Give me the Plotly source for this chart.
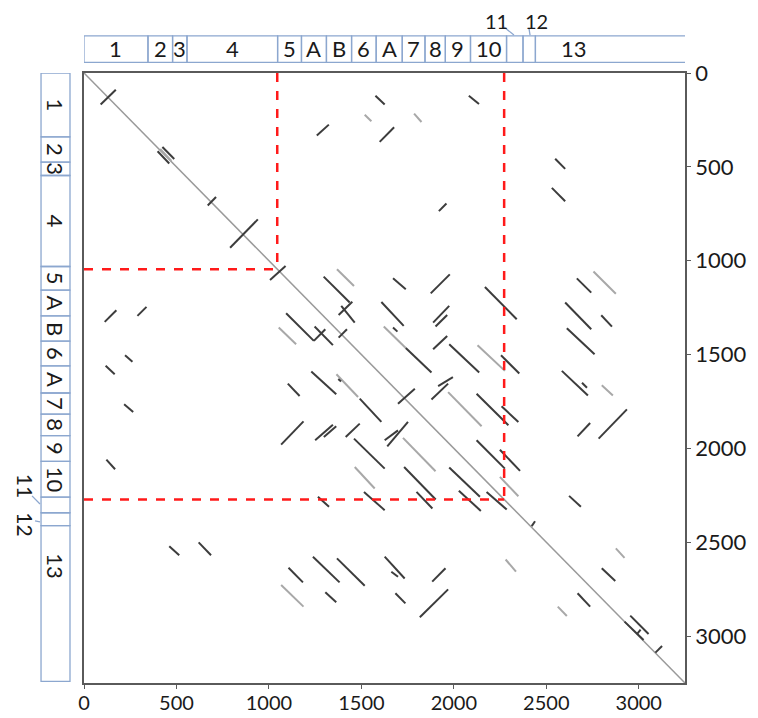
import plotly.graph_objects as go

genome_length = 3250

# region bars (genome coordinates of boundaries)
region_labels = ["1", "2", "3", "4", "5", "A", "B", "6", "A", "7", "8", "9", "10", "", "", "13"]
top_bounds = [0, 346, 479, 557, 1047, 1176, 1311, 1447, 1580, 1721, 1844, 1954, 2090, 2285, 2374, 2441, 3272]
left_bounds = [0, 340, 475, 546, 1031, 1157, 1294, 1429, 1560, 1705, 1817, 1932, 2069, 2260, 2343, 2411, 3241]
top_label13_pos = 2650
left_label13_pos = 2625

# dashed region boundaries
red_box_ends = [1045, 2272]

# similarity segments (x0, y0, x1, y1)
dark_segments = [
    (90, 168, 172, 89), (398, 417, 461, 482), (424, 394, 488, 458), (669, 706, 714, 661),
    (790, 931, 940, 780), (1006, 1103, 1090, 1028), (1259, 333, 1324, 275), (1576, 121, 1626, 168),
    (1599, 367, 1677, 289), (1296, 1085, 1437, 1223), (1377, 1289, 1451, 1219), (1391, 1241, 1464, 1330),
    (1608, 1220, 1729, 1347), (112, 1326, 175, 1264), (289, 1294, 338, 1246), (222, 1504, 262, 1539),
    (117, 1560, 166, 1605), (1093, 1280, 1243, 1427), (1243, 1427, 1305, 1365), (1247, 1351, 1346, 1450),
    (1377, 1410, 1422, 1365),
    (2081, 121, 2136, 165), (2548, 457, 2602, 511), (2530, 612, 2602, 683), (1919, 736, 1960, 695),
    (1671, 1094, 1740, 1152), (1875, 1174, 1978, 1073), (2168, 1140, 2340, 1312), (2665, 1094, 2743, 1170),
    (2602, 1223, 2743, 1365), (2797, 1291, 2855, 1351), (2611, 1360, 2761, 1498), (1888, 1330, 1975, 1241),
    (1901, 1351, 1964, 1289), (1671, 1356, 1695, 1378), (1740, 1465, 1879, 1596), (1888, 1472, 1964, 1401),
    (1975, 1445, 2137, 1596), (2255, 1504, 2354, 1601),
    (217, 1765, 266, 1806), (121, 2060, 168, 2111), (1102, 1655, 1166, 1721), (1229, 1590, 1364, 1712),
    (1375, 1630, 1390, 1643), (1491, 1735, 1608, 1859), (1066, 1980, 1187, 1856), (1250, 1957, 1346, 1874),
    (1297, 1939, 1364, 1882), (1415, 1939, 1491, 1868), (1460, 1948, 1626, 2108), (1514, 2232, 1626, 2329),
    (1265, 2258, 1325, 2311), (461, 2521, 515, 2569), (620, 2501, 687, 2569), (1106, 2636, 1184, 2714),
    (1238, 2577, 1382, 2714), (1368, 2586, 1518, 2732), (1305, 2767, 1364, 2820),
    (1698, 1762, 1789, 1682), (1879, 1739, 1969, 1655), (1915, 1668, 1995, 1620), (2123, 1709, 2295, 1877),
    (2258, 1776, 2349, 1859), (2584, 1587, 2725, 1718), (2693, 1650, 2720, 1677), (2669, 1936, 2737, 1865),
    (2783, 1948, 2936, 1792), (1640, 1989, 1752, 1859), (1626, 1957, 1698, 1904), (1731, 2099, 1902, 2272),
    (1798, 2232, 1884, 2320), (1975, 2102, 2141, 2258), (2027, 2226, 2146, 2333), (2123, 1957, 2276, 2108),
    (2249, 2007, 2358, 2120), (2177, 2232, 2286, 2326), (2421, 2414, 2439, 2388), (2623, 2253, 2687, 2311),
    (2800, 2639, 2873, 2707), (1626, 2577, 1734, 2693), (1662, 2657, 1698, 2684), (1883, 2710, 1955, 2639),
    (1684, 2772, 1738, 2826), (1816, 2900, 1969, 2751), (2669, 2772, 2737, 2843), (2954, 2891, 3053, 2989),
    (2923, 2923, 3026, 3021), (2990, 2990, 3010, 2965), (3090, 3088, 3126, 3053),
]
light_segments = [
    (412, 405, 473, 468), (1518, 222, 1554, 257), (1368, 1046, 1460, 1135), (1053, 1356, 1147, 1445),
    (1785, 216, 1825, 261), (2755, 1058, 2876, 1176), (1621, 1351, 1740, 1465), (2128, 1450, 2276, 1587),
    (1365, 1605, 1482, 1726), (1464, 2099, 1572, 2214), (1066, 2728, 1187, 2843),
    (1969, 1700, 2150, 1882), (2800, 1664, 2860, 1718), (1725, 1944, 1901, 2122), (2249, 2152, 2349, 2255),
    (2876, 2533, 2923, 2583), (2280, 2592, 2336, 2657), (2562, 2843, 2611, 2893),
]


def seg_xy(segs):
    xs, ys = [], []
    for x0, y0, x1, y1 in segs:
        xs += [x0, x1, None]
        ys += [y0, y1, None]
    return xs, ys


fig = go.Figure()
fig.add_trace(go.Scatter(x=[0, genome_length], y=[0, genome_length], mode="lines",
                         line=dict(color="#9a9a9a", width=1.5), hoverinfo="skip"))
lx, ly = seg_xy(light_segments)
fig.add_trace(go.Scatter(x=lx, y=ly, mode="lines", line=dict(color="#a8a8a8", width=2), hoverinfo="skip"))
dx, dy = seg_xy(dark_segments)
fig.add_trace(go.Scatter(x=dx, y=dy, mode="lines", line=dict(color="#3c3c3c", width=2), hoverinfo="skip"))

shapes = []
annotations = []
bar_line = dict(color="#8ca7cf", width=1.3)

# red dashed boxes
for e in red_box_ends:
    shapes.append(dict(type="line", xref="x", yref="y", x0=e, x1=e, y0=0, y1=e,
                       line=dict(color="#ff1a1a", width=2.5, dash="dash")))
    shapes.append(dict(type="line", xref="x", yref="y", x0=0, x1=e, y0=e, y1=e,
                       line=dict(color="#ff1a1a", width=2.5, dash="dash")))

# top bar
for i, lab in enumerate(region_labels):
    a, b = top_bounds[i], top_bounds[i + 1]
    shapes.append(dict(type="rect", xref="x", yref="paper", x0=a, x1=b, y0=1.0175, y1=1.061,
                       line=bar_line, fillcolor="rgba(0,0,0,0)"))
    if lab:
        pos = top_label13_pos if lab == "13" else (a + b) / 2
        annotations.append(dict(x=pos, y=1.0395, xref="x", yref="paper", text=lab, showarrow=False,
                                font=dict(size=22), xanchor="center", yanchor="middle"))

# left bar
for i, lab in enumerate(region_labels):
    a, b = left_bounds[i], left_bounds[i + 1]
    shapes.append(dict(type="rect", xref="paper", yref="y", x0=-0.0715, x1=-0.0233, y0=a, y1=b,
                       line=bar_line, fillcolor="rgba(0,0,0,0)"))
    if lab:
        pos = left_label13_pos if lab == "13" else (a + b) / 2
        annotations.append(dict(x=-0.0474, y=pos, xref="paper", yref="y", text=lab, showarrow=False,
                                textangle=90, font=dict(size=22), xanchor="center", yanchor="middle"))

# small region labels 11 and 12 with leader lines
annotations.append(dict(x=2232, y=1.086, xref="x", yref="paper", text="11", showarrow=False,
                        font=dict(size=20), xanchor="center", yanchor="middle"))
annotations.append(dict(x=2448, y=1.086, xref="x", yref="paper", text="12", showarrow=False,
                        font=dict(size=20), xanchor="center", yanchor="middle"))
shapes.append(dict(type="line", xref="x", yref="paper", x0=2271, x1=2325, y0=1.0754, y1=1.0623, line=bar_line))
shapes.append(dict(type="line", xref="x", yref="paper", x0=2406, x1=2412, y0=1.074, y1=1.062, line=bar_line))

annotations.append(dict(x=-0.098, y=2200, xref="paper", yref="y", text="11", showarrow=False,
                        textangle=90, font=dict(size=21), xanchor="center", yanchor="middle"))
annotations.append(dict(x=-0.098, y=2405, xref="paper", yref="y", text="12", showarrow=False,
                        textangle=90, font=dict(size=21), xanchor="center", yanchor="middle"))
shapes.append(dict(type="line", xref="paper", yref="y", x0=-0.0865, x1=-0.0732, y0=2253, y1=2296, line=bar_line))
shapes.append(dict(type="line", xref="paper", yref="y", x0=-0.0815, x1=-0.0732, y0=2386, y1=2392, line=bar_line))

ticks = [0, 500, 1000, 1500, 2000, 2500, 3000]
axis_common = dict(showgrid=False, zeroline=False, showline=True, linecolor="#5a5a5a", linewidth=1.6,
                   mirror=True, ticks="outside", ticklen=4, tickcolor="#5a5a5a", tickvals=ticks,
                   automargin=False)

fig.update_layout(
    width=750, height=710,
    margin=dict(l=76, r=73, t=65, b=35),
    plot_bgcolor="white", paper_bgcolor="white",
    showlegend=False,
    font=dict(family="Lato, Open Sans, sans-serif", size=22, color="#1a1a1a"),
    xaxis=dict(range=[0, genome_length], tickfont=dict(size=20, color="#1a1a1a"),
               ticklabelstandoff=-3, **axis_common),
    yaxis=dict(range=[genome_length, 0], side="right", tickfont=dict(size=22, color="#1a1a1a"),
               **axis_common),
    shapes=shapes,
    annotations=annotations,
)

fig.write_html("out.html")
